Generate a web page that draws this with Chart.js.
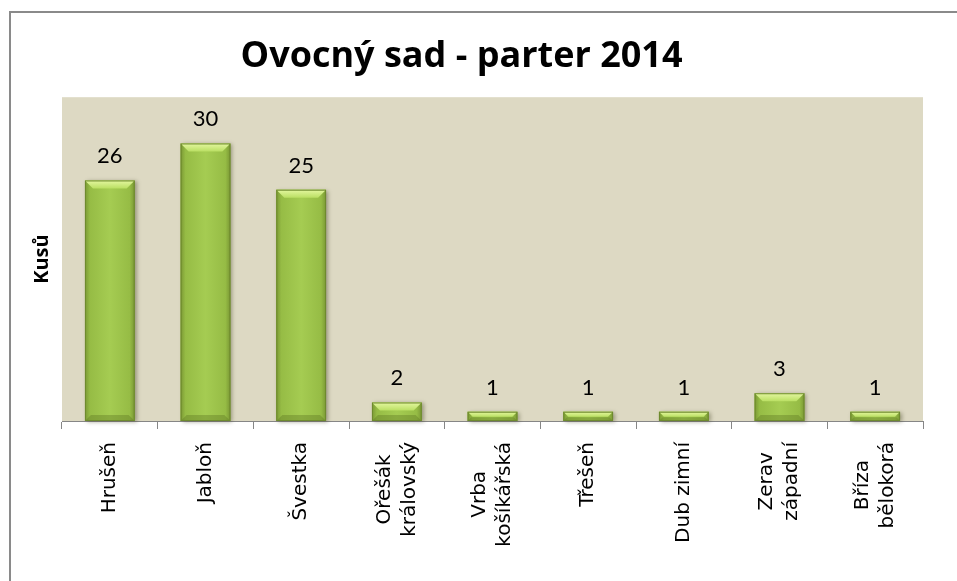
<!DOCTYPE html>
<html lang="cs">
<head>
<meta charset="utf-8">
<title>Ovocný sad - parter 2014</title>
<script src="https://cdn.jsdelivr.net/npm/chart.js@4/dist/chart.umd.min.js"></script>
<style>
  html, body { margin: 0; padding: 0; background: #fff; }
  #wrap { position: relative; width: 957px; height: 581px; overflow: hidden; }
  /* rámeček grafu (pravý a dolní okraj jsou mimo výřez) */
  #frame { position: absolute; left: 9px; top: 11px; width: 1000px; height: 700px;
           border-left: 2px solid #8a8a8a; border-top: 2px solid #8a8a8a; }
  #chart { position: absolute; left: 0; top: 0; }
</style>
</head>
<body>
<div id="wrap">
  <div id="frame"></div>
  <canvas id="chart" width="957" height="581"></canvas>
</div>
<script>
// Data
const categories = ['Hrušeň', 'Jabloň', 'Švestka', ['Ořešák', 'královský'], ['Vrba', 'košíkářská'],
                    'Třešeň', 'Dub zimní', ['Zerav', 'západní'], ['Bříza', 'bělokorá']];
const pocty = [26, 30, 25, 2, 1, 1, 1, 3, 1];
const yMax = 35;

// Pozadí plochy grafu
const plotBackground = {
    id: 'plotBackground',
    beforeDraw(chart) {
        const {ctx, chartArea: a} = chart;
        ctx.save();
        ctx.fillStyle = '#DDD9C3';
        ctx.fillRect(a.left, a.top, a.right - a.left, a.bottom - a.top);
        ctx.restore();
    }
};

// Sloupce se zkosením (vzhled jako v Excelu)
const bevelBars = {
    id: 'bevelBars',
    afterDatasetsDraw(chart) {
        const ctx = chart.ctx;
        chart.getDatasetMeta(0).data.forEach(bar => {
            const {x, y, width, base} = bar.getProps(['x', 'y', 'width', 'base'], true);
            const l = x - width / 2, r = x + width / 2, h = base - y;
            const b = Math.min(8, h * 0.55);

            ctx.save();
            ctx.shadowColor = 'rgba(70, 70, 40, 0.45)';
            ctx.shadowBlur = 4;
            ctx.shadowOffsetX = 2;
            ctx.shadowOffsetY = 1;
            const g = ctx.createLinearGradient(l, 0, r, 0);
            g.addColorStop(0, '#7A9834');
            g.addColorStop(0.1, '#96BC45');
            g.addColorStop(0.5, '#A5CC52');
            g.addColorStop(0.9, '#96BC45');
            g.addColorStop(1, '#7A9834');
            ctx.fillStyle = g;
            ctx.fillRect(l, y, width, h);
            ctx.restore();

            ctx.save();
            // horní hrana
            ctx.beginPath();
            ctx.moveTo(l, y);
            ctx.lineTo(r, y);
            ctx.lineTo(r - b, y + b);
            ctx.lineTo(l + b, y + b);
            ctx.closePath();
            const gt = ctx.createLinearGradient(0, y, 0, y + b);
            gt.addColorStop(0, '#E4F7A0');
            gt.addColorStop(1, '#BADF63');
            ctx.fillStyle = gt;
            ctx.fill();

            // spodní hrana
            const b2 = Math.min(6, h * 0.4);
            ctx.beginPath();
            ctx.moveTo(l, base);
            ctx.lineTo(r, base);
            ctx.lineTo(r - b2, base - b2);
            ctx.lineTo(l + b2, base - b2);
            ctx.closePath();
            ctx.fillStyle = 'rgba(95, 120, 35, 0.4)';
            ctx.fill();

            ctx.strokeStyle = '#6E8A2E';
            ctx.lineWidth = 1;
            ctx.strokeRect(l + 0.5, y + 0.5, width - 1, h - 1);
            ctx.restore();
        });
    }
};

// Hodnoty nad sloupci
const valueLabels = {
    id: 'valueLabels',
    afterDatasetsDraw(chart) {
        const ctx = chart.ctx;
        const ds = chart.data.datasets[0];
        ctx.save();
        ctx.font = '22px Lato';
        ctx.fillStyle = '#000';
        ctx.textAlign = 'center';
        ctx.textBaseline = 'alphabetic';
        chart.getDatasetMeta(0).data.forEach((bar, i) => {
            const {x, y} = bar.getProps(['x', 'y'], true);
            ctx.fillText(String(ds.data[i]), x, y - 17);
        });
        ctx.restore();
    }
};

// Popisky kategorií, otočené o 90°, řádky centrované
const categoryLabels = {
    id: 'categoryLabels',
    afterDraw(chart) {
        const ctx = chart.ctx;
        const xs = chart.scales.x;
        const lineH = 25;
        ctx.save();
        ctx.font = '20px "DejaVu Sans"';
        ctx.fillStyle = '#000';
        ctx.textAlign = 'center';
        ctx.textBaseline = 'middle';
        chart.data.labels.forEach((lab, i) => {
            const lines = Array.isArray(lab) ? lab : [lab];
            const maxW = Math.max(...lines.map(t => ctx.measureText(t).width));
            const tx = xs.getPixelForTick(i);
            ctx.save();
            ctx.translate(tx, xs.top + 21);
            ctx.rotate(-Math.PI / 2);
            lines.forEach((t, j) => {
                ctx.fillText(t, -maxW / 2, (j - (lines.length - 1) / 2) * lineH);
            });
            ctx.restore();
        });
        ctx.restore();
    }
};

new Chart(document.getElementById('chart'), {
    type: 'bar',
    data: {
        labels: categories,
        datasets: [{
            label: 'Kusů',
            data: pocty,
            backgroundColor: '#A0C64E',
            borderWidth: 0,
            barPercentage: 1,
            categoryPercentage: 0.52
        }]
    },
    options: {
        responsive: false,
        devicePixelRatio: 1,
        animation: false,
        layout: { padding: { left: 0, right: 34, top: 0, bottom: 152 } },
        plugins: {
            legend: { display: false },
            tooltip: { enabled: false },
            title: {
                display: true,
                text: 'Ovocný sad - parter 2014',
                color: '#000',
                font: { family: '"Open Sans"', size: 36, weight: 'bold' },
                padding: { top: 35, bottom: 19 }
            }
        },
        scales: {
            x: {
                grid: { display: true, drawOnChartArea: false, drawTicks: true, tickLength: 8,
                        color: '#868686', offset: true },
                border: { display: true, color: '#868686', width: 1 },
                ticks: { display: false }
            },
            y: {
                min: 0,
                max: yMax,
                grid: { display: false },
                border: { display: false },
                ticks: { display: false },
                title: {
                    display: true,
                    text: 'Kusů',
                    color: '#000',
                    font: { family: '"Open Sans"', size: 20, weight: 'bold' },
                    padding: { top: 30, bottom: 0 }
                }
            }
        }
    },
    plugins: [plotBackground, bevelBars, valueLabels, categoryLabels]
});
</script>
</body>
</html>
